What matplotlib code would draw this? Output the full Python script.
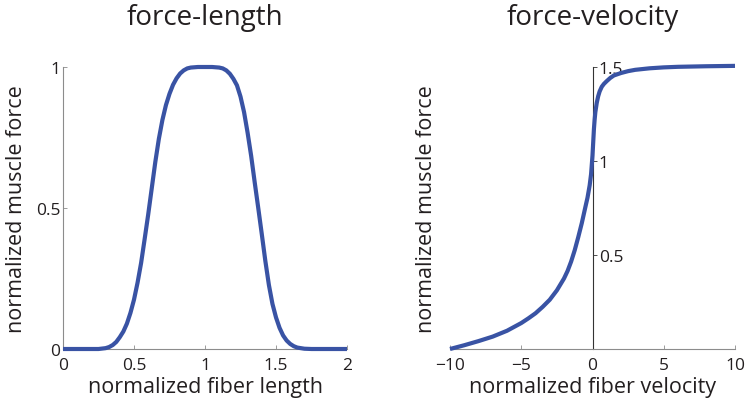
import matplotlib
matplotlib.use("Agg")
import matplotlib.pyplot as plt

# ---- data ----
fl_length = [0.0, 0.1, 0.2, 0.25, 0.3, 0.325, 0.35, 0.375, 0.4, 0.425, 0.45, 0.475,
             0.5, 0.525, 0.55, 0.575, 0.6, 0.625, 0.65, 0.675, 0.7, 0.725, 0.75,
             0.775, 0.8, 0.825, 0.85, 0.875, 0.9, 0.95, 1.0, 1.05, 1.1, 1.125,
             1.15, 1.175, 1.2, 1.225, 1.25, 1.275, 1.3, 1.325, 1.35, 1.375, 1.4,
             1.425, 1.45, 1.475, 1.5, 1.525, 1.55, 1.575, 1.6, 1.625, 1.65, 1.7,
             1.75, 1.8, 1.9, 2.0]
fl_force = [0.0, 0.0, 0.0, 0.0, 0.003, 0.007, 0.014, 0.025, 0.042, 0.062, 0.09,
            0.128, 0.175, 0.235, 0.305, 0.39, 0.477, 0.57, 0.663, 0.745, 0.812,
            0.865, 0.905, 0.937, 0.96, 0.977, 0.988, 0.995, 0.998, 1.0, 1.0, 1.0,
            0.998, 0.995, 0.988, 0.976, 0.958, 0.935, 0.895, 0.84, 0.767, 0.685,
            0.591, 0.5, 0.407, 0.312, 0.227, 0.16, 0.112, 0.075, 0.048, 0.03,
            0.018, 0.01, 0.005, 0.001, 0.0, 0.0, 0.0, 0.0]

fv_velocity = [-10, -9, -8, -7, -6, -5, -4.5, -4, -3.5, -3, -2.5, -2, -1.75, -1.5,
               -1.25, -1, -0.75, -0.5, -0.35, -0.2, -0.1, 0, 0.05, 0.1, 0.15, 0.2,
               0.3, 0.4, 0.5, 0.65, 0.8, 1.0, 1.25, 1.5, 2, 2.5, 3, 4, 5, 6, 8, 10]
fv_force = [0.0, 0.02, 0.042, 0.066, 0.097, 0.138, 0.163, 0.19, 0.224, 0.262,
            0.312, 0.375, 0.415, 0.465, 0.525, 0.595, 0.67, 0.755, 0.805, 0.87,
            0.93, 1.03, 1.1, 1.17, 1.22, 1.26, 1.31, 1.345, 1.37, 1.395, 1.41,
            1.425, 1.442, 1.455, 1.468, 1.478, 1.485, 1.493, 1.498, 1.501, 1.504,
            1.506]

fl_xticks = [0, 0.5, 1, 1.5, 2]
fl_xticklabels = ["0", "0.5", "1", "1.5", "2"]
fl_yticks = [0, 0.5, 1]
fl_yticklabels = ["0", "0.5", "1"]
fv_xticks = [-10, -5, 0, 5, 10]
fv_xticklabels = ["\u221210", "\u22125", "0", "5", "10"]
fv_yticks = [0.5, 1, 1.5]
fv_yticklabels = ["0.5", "1", "1.5"]

titles = ["force-length", "force-velocity"]
xlabels = ["normalized fiber length", "normalized fiber velocity"]
ylabel = "normalized muscle force"

# ---- style ----
plt.rcParams['font.family'] = ['Open Sans', 'DejaVu Sans']
blue = "#3953a4"
txt = "#231f20"
gray = "#8c8c8c"

fig = plt.figure(figsize=(7.5, 4.1), dpi=100)
W, H = 750, 410

def px_axes(l, r, t, b):
    return fig.add_axes([l / W, 1 - b / H, (r - l) / W, (b - t) / H])

# ---- left panel ----
ax1 = px_axes(63, 347, 68, 350)
ax1.plot(fl_length, fl_force, color=blue, lw=3.0, clip_on=False,
         solid_capstyle='butt', solid_joinstyle='round', zorder=3)
ax1.set_xlim(0, 2)
ax1.set_ylim(0, 1)
for s in ['top', 'right']:
    ax1.spines[s].set_visible(False)
for s in ['left', 'bottom']:
    ax1.spines[s].set_color(gray)
    ax1.spines[s].set_linewidth(0.8)
ax1.set_xticks(fl_xticks, fl_xticklabels)
ax1.set_yticks(fl_yticks, fl_yticklabels)
ax1.tick_params(axis='both', direction='in', length=3, width=0.6, color=gray,
                labelsize=12.5, labelcolor=txt)
ax1.tick_params(axis='x', pad=6)
ax1.tick_params(axis='y', pad=2)
ax1.set_title(titles[0], fontsize=20, color=txt, pad=31)
ax1.set_xlabel(xlabels[0], fontsize=15.5, color=txt, labelpad=2)
ax1.text(-0.165, 0.5, ylabel, transform=ax1.transAxes, rotation=90,
         ha='center', va='center', fontsize=15.5, color=txt)

# ---- right panel ----
ax2 = px_axes(450, 735, 68, 350)
ax2.plot(fv_velocity, fv_force, color=blue, lw=3.0, clip_on=False,
         solid_capstyle='butt', solid_joinstyle='round', zorder=3)
ax2.set_xlim(-10, 10)
ax2.set_ylim(0, 1.5)
ax2.spines['top'].set_visible(False)
ax2.spines['left'].set_visible(False)
ax2.spines['right'].set_position(('data', 0))
ax2.spines['right'].set_color("#333333")
ax2.spines['right'].set_linewidth(0.8)
ax2.spines['bottom'].set_color(gray)
ax2.spines['bottom'].set_linewidth(0.8)
ax2.yaxis.tick_right()
ax2.set_xticks(fv_xticks, fv_xticklabels)
ax2.set_yticks(fv_yticks, fv_yticklabels)
ax2.tick_params(axis='x', direction='in', length=3, width=0.6, color=gray,
                labelsize=12.5, labelcolor=txt, pad=6)
ax2.tick_params(axis='y', direction='out', length=3, width=0.6, color="#333333",
                labelsize=12.5, labelcolor=txt, pad=1.5)
ax2.set_title(titles[1], fontsize=20, color=txt, pad=31)
ax2.set_xlabel(xlabels[1], fontsize=15.5, color=txt, labelpad=2)
ax2.text(-0.081, 0.5, ylabel, transform=ax2.transAxes, rotation=90,
         ha='center', va='center', fontsize=15.5, color=txt)

fig.savefig("out.png", dpi=100)
